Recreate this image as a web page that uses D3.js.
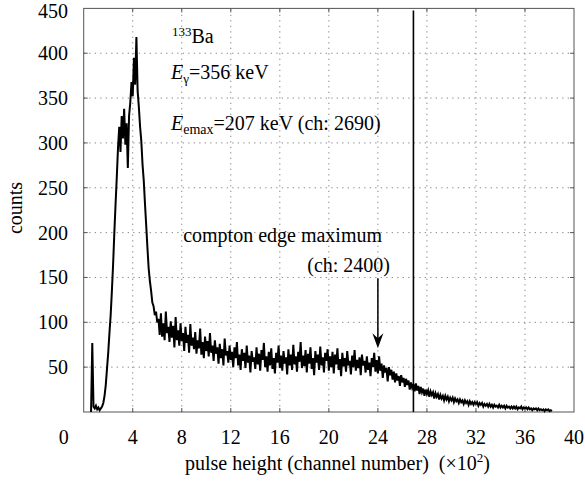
<!DOCTYPE html>
<html><head><meta charset="utf-8">
<script src="https://cdn.jsdelivr.net/npm/d3@7"></script>
<style>
body{margin:0;background:#fff;}
svg{display:block;font-family:"Liberation Serif","Times New Roman",serif;}
</style></head>
<body><svg id="c" width="585" height="487"></svg>
<script>
// ---- data ----
const xTicks = [0,4,8,12,16,20,24,28,32,36,40];
const yTicks = [50,100,150,200,250,300,350,400,450];
const startChannel = 0.6;   // (x10^2)
const channelStep = 0.1;    // (x10^2)
const counts = [
 0,77,6,4,7,3,5,2,4,6,
 10,18,30,48,66,88,108,135,165,200,
 232,262,295,318,290,330,305,338,298,322,
 272,330,345,368,352,395,365,418,358,340,
 318,302,276,258,232,208,183,160,146,135,
 122,118,108,112,100,
 104,86,110,84,99,80,112,88,95,78,
 101,83,96,72,106,80,91,74,99,79,
 88,68,95,77,86,66,98,74,83,70,
 89,65,80,71,93,64,78,60,84,68,
 79,62,88,66,74,57,80,65,72,54,
 76,60,70,52,82,63,68,55,74,58,
 67,50,72,60,78,52,64,47,70,57,
 66,49,74,55,63,44,68,56,61,48,
 72,53,65,46,69,58,77,50,62,45,
 67,52,71,48,60,43,66,55,74,49,
 63,46,68,54,61,42,70,52,64,47,
 75,53,62,45,67,56,78,49,63,51,
 69,44,65,54,72,48,60,41,68,55,
 64,47,73,52,61,44,66,57,70,46,
 62,50,67,43,64,53,71,47,59,40,
 66,51,60,45,68,52,57,42,63,50,
 69,46,58,49,61,41,64,52,57,44,
 62,47,55,40,60,50,66,45,58,43,
 62,46,54,38,52,44,49,34,50,41,
 47,36,45,33,43,35,40,29,41,33,
 38,28,37,30,35,25,33,27,31,23,
 32,24,29,20,28,22,26,18,25,20,
 24,17,23,19,22,15,21,17,20,14,
 19,15,18,13,18,14,17,12,16,13,
 16,11,15,12,14,10,14,11,13,9,
 13,10,12,8,12,9,11,8,11,9,
 11,7,10,8,10,6,9,7,9,6,
 9,6,8,5,8,6,7,5,8,5,
 7,5,7,4,7,5,6,4,6,4,
 6,4,6,3,5,4,6,3,5,4,
 5,3,5,3,4,2,4,3,4,2,
 4,2,3,2,3,1,3,2,3,1,2,1
];
const eMaxChannel = 26.9;     // ch 2690
const comptonChannel = 24;    // ch 2400
const arrowFrom = 149, arrowTo = 71;  // counts

// ---- layout ----
const svg = d3.select("#c");
const L = 83.7, R = 574, T = 8.4, B = 412;
const FS = 20;
const x = d3.scaleLinear().domain([0,40]).range([L,R]);
const y = d3.scaleLinear().domain([0,450]).range([B,T]);
const data = counts.map((c,i)=>({ch: +(startChannel + i*channelStep).toFixed(2), c}));

// grid
const g = svg.append("g");
g.selectAll(".vg").data(xTicks.slice(1,-1)).join("line")
  .attr("x1",d=>x(d)).attr("x2",d=>x(d)).attr("y1",B).attr("y2",T)
  .attr("stroke","#888").attr("stroke-width",1).attr("stroke-dasharray","1.3,4.2");
g.selectAll(".hg").data(yTicks.slice(0,-1)).join("line")
  .attr("x1",L).attr("x2",R).attr("y1",d=>y(d)).attr("y2",d=>y(d))
  .attr("stroke","#888").attr("stroke-width",1).attr("stroke-dasharray","1.3,4.2");

// frame
svg.append("rect").attr("x",L).attr("y",T).attr("width",R-L).attr("height",B-T)
  .attr("fill","none").attr("stroke","#555").attr("stroke-width",1);

// ticks inward
const tk = 4;
svg.append("g").selectAll("line").data(xTicks.slice(1,-1)).join("line")
  .attr("x1",d=>x(d)).attr("x2",d=>x(d)).attr("y1",B).attr("y2",B-tk).attr("stroke","#555");
svg.append("g").selectAll("line").data(xTicks.slice(1,-1)).join("line")
  .attr("x1",d=>x(d)).attr("x2",d=>x(d)).attr("y1",T).attr("y2",T+tk).attr("stroke","#555");
svg.append("g").selectAll("line").data(yTicks.slice(0,-1)).join("line")
  .attr("x1",L).attr("x2",L+tk).attr("y1",d=>y(d)).attr("y2",d=>y(d)).attr("stroke","#555");
svg.append("g").selectAll("line").data(yTicks.slice(0,-1)).join("line")
  .attr("x1",R).attr("x2",R-tk).attr("y1",d=>y(d)).attr("y2",d=>y(d)).attr("stroke","#555");

// tick labels
svg.append("g").selectAll("text").data(xTicks.slice(1)).join("text")
  .attr("x",d=>x(d)).attr("y",444).attr("text-anchor","middle")
  .attr("font-size",FS).text(d=>d);
svg.append("text").attr("x",x(0)-20).attr("y",444).attr("text-anchor","middle")
  .attr("font-size",FS).text("0");
svg.append("g").selectAll("text").data(yTicks).join("text")
  .attr("x",68).attr("y",d=>Math.max(y(d)+7, 17.5)).attr("text-anchor","end")
  .attr("font-size",FS).text(d=>d);

// axis titles
svg.append("text").attr("transform","translate(22,208) rotate(-90)")
  .attr("text-anchor","middle").attr("font-size",FS).text("counts");
const xt = svg.append("text").attr("x",185).attr("y",470).attr("font-size",FS);
xt.append("tspan").text("pulse height (channel number)\u00a0\u00a0(\u00d710");
xt.append("tspan").attr("font-size",13).attr("dy",-8).text("2");
xt.append("tspan").attr("dy",8).text(")");

// spectrum
svg.append("path").datum(data)
  .attr("d", d3.line().x(d=>x(d.ch)).y(d=>y(d.c)))
  .attr("fill","none").attr("stroke","#000").attr("stroke-width",2)
  .attr("stroke-linejoin","miter");

// E max line
svg.append("line").attr("x1",x(eMaxChannel)).attr("x2",x(eMaxChannel))
  .attr("y1",T+2).attr("y2",B).attr("stroke","#000").attr("stroke-width",1.6);

// arrow
const ax = x(comptonChannel), ay1 = y(arrowFrom), ay2 = y(arrowTo);
svg.append("line").attr("x1",ax).attr("x2",ax).attr("y1",ay1).attr("y2",ay2-8)
  .attr("stroke","#000").attr("stroke-width",1.5);
svg.append("path")
  .attr("d",`M${ax},${ay2} L${ax-5.5},${ay2-15} L${ax},${ay2-10} L${ax+5.5},${ay2-15} Z`)
  .attr("fill","#000");

// annotations
svg.append("text").attr("x",382).attr("y",242).attr("text-anchor","end")
  .attr("font-size",FS).text("compton edge maximum");
svg.append("text").attr("x",390).attr("y",272).attr("text-anchor","end")
  .attr("font-size",FS).text("(ch: 2400)");

const t1 = svg.append("text").attr("x",172).attr("y",43).attr("font-size",FS);
t1.append("tspan").attr("font-size",13).attr("dy",-7).text("133");
t1.append("tspan").attr("dy",7).text("Ba");

const t2 = svg.append("text").attr("x",171).attr("y",79).attr("font-size",FS);
t2.append("tspan").attr("font-style","italic").text("E");
t2.append("tspan").attr("font-size",13).attr("dy",4).text("\u03b3");
t2.append("tspan").attr("dy",-4).text("=356 keV");

const t3 = svg.append("text").attr("x",171).attr("y",130).attr("font-size",FS);
t3.append("tspan").attr("font-style","italic").text("E");
t3.append("tspan").attr("font-size",14).attr("dy",4).text("emax");
t3.append("tspan").attr("dy",-4).text("=207 keV (ch: 2690)");
</script></body></html>
